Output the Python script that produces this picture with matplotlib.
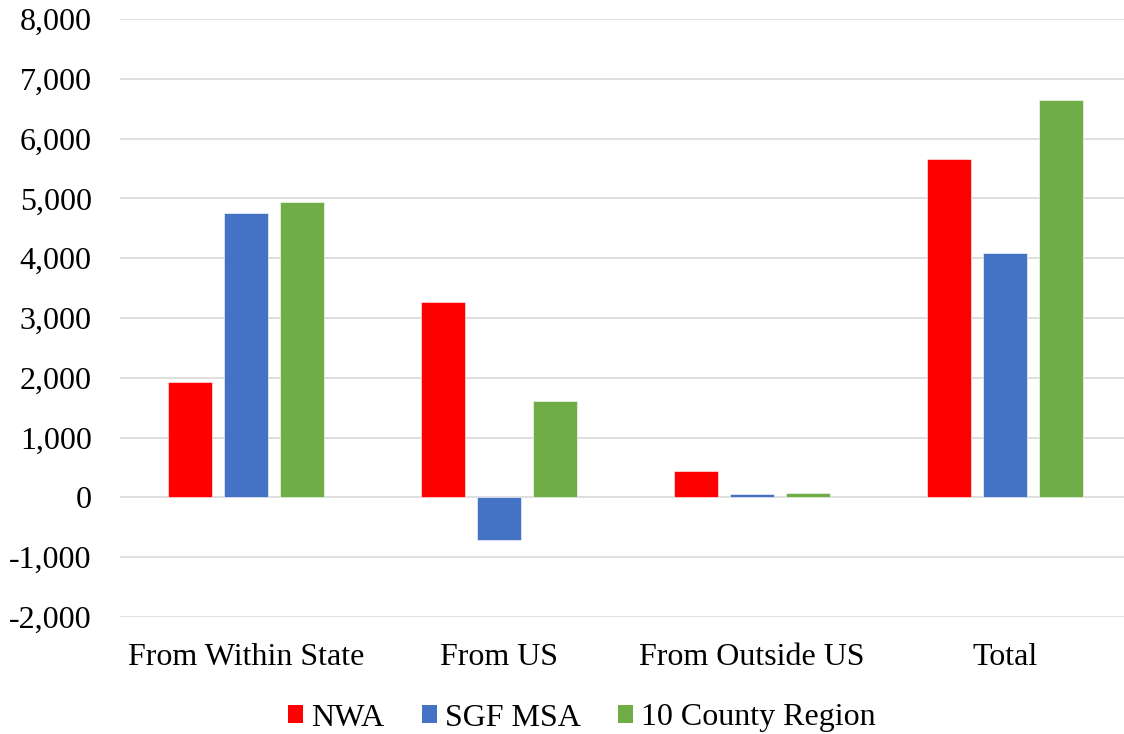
import matplotlib
matplotlib.use("Agg")
import matplotlib.pyplot as plt
from matplotlib.patches import Patch
from matplotlib.ticker import FuncFormatter
import numpy as np

categories = ["From Within State", "From US", "From Outside US", "Total"]
series_names = ["NWA", "SGF MSA", "10 County Region"]
nwa = [1930, 3265, 440, 5655]
sgf = [4760, -720, 50, 4095]
region = [4940, 1605, 70, 6640]
colors = ["#FF0000", "#4472C4", "#70AD47"]
yticks = list(range(-2000, 8001, 1000))

plt.rcParams['font.family'] = ['Liberation Serif', 'DejaVu Serif']

fig = plt.figure(figsize=(11.24, 7.34), dpi=100)
ax = fig.add_axes([119.5 / 1124, 1 - 617 / 734, 1012 / 1124, (617 - 19) / 734])

x = np.arange(len(categories))
step = 56 / 253
width = 44 / 253
for i, (vals, c) in enumerate(zip([nwa, sgf, region], colors)):
    ax.bar(x + (i - 1) * step, vals, width=width, color=c, edgecolor="white",
           linewidth=0.4, zorder=3)

ax.set_xlim(-0.5, 3.5)
ax.set_ylim(-2000, 8000)
ax.set_yticks(yticks)
ax.yaxis.set_major_formatter(FuncFormatter(lambda v, p: f"{int(v):,}"))
ax.set_xticks(x)
ax.set_xticklabels(categories)
ax.grid(axis="y", color="#D9D9D9", linewidth=1.2, zorder=0)
ax.set_axisbelow(True)
for s in ax.spines.values():
    s.set_visible(False)
ax.tick_params(axis="y", length=0, pad=20, labelsize=23)
ax.tick_params(axis="x", length=0, pad=19, labelsize=23)

handles = [Patch(facecolor=c, edgecolor="none") for c in colors]
fig.legend(handles, series_names, loc="center", bbox_to_anchor=(582 / 1124, 1 - 718 / 734),
           ncol=3, frameon=False, fontsize=23, handlelength=0.47, handleheight=0.47,
           handletextpad=0.25, columnspacing=1.18, borderaxespad=0, borderpad=0)

fig.savefig("out.png", dpi=100)
